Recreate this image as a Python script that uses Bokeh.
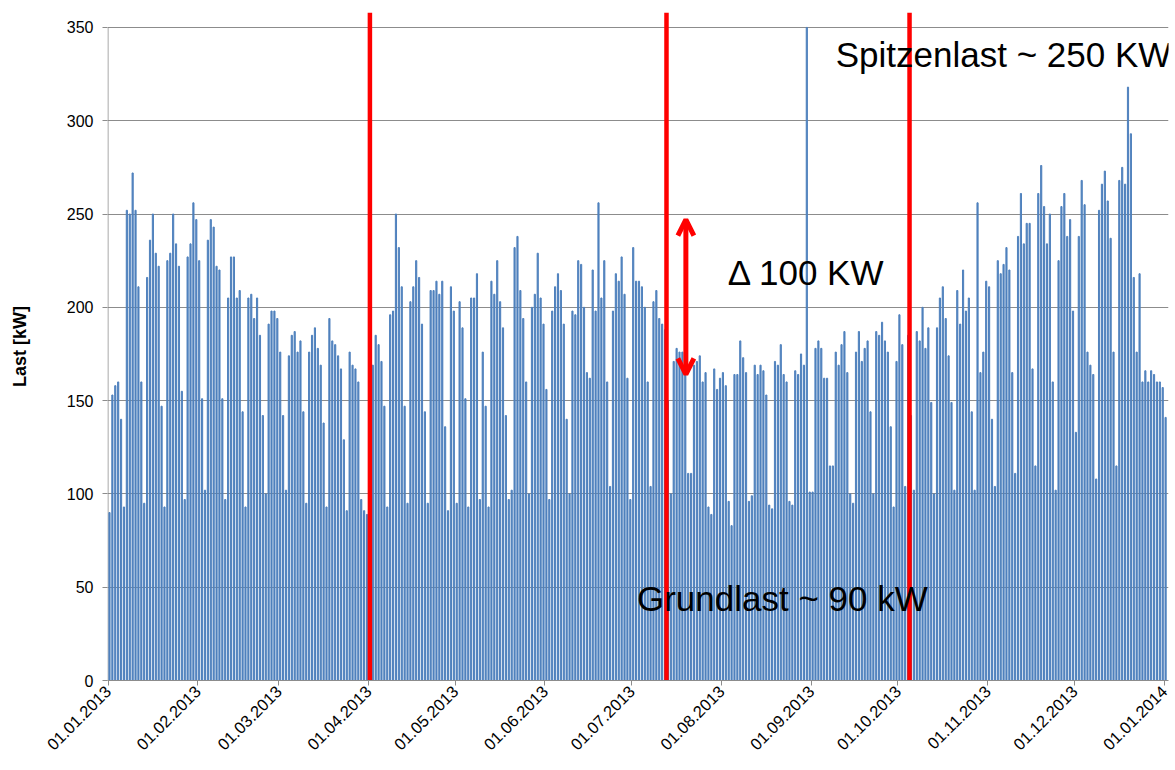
import math
from bokeh.plotting import figure
from bokeh.models import Range1d, FixedTicker, Arrow, OpenHead, Label
from bokeh.embed import file_html
from bokeh.resources import INLINE

# daily load 01.01.2013 .. 01.01.2014 (kW)
load_jan = [90, 153, 158, 160, 140, 93, 252, 250, 272, 252, 211, 160, 95, 216, 236, 250,
            229, 222, 147, 93, 225, 229, 250, 234, 222, 155, 97, 227, 234, 256, 247]
load_feb = [225, 151, 102, 236, 247, 243, 222, 220, 151, 97, 205, 227, 227, 205, 209, 144,
            93, 205, 207, 194, 205, 185, 142, 100, 191, 198, 198, 194]
load_mar = [176, 142, 102, 174, 185, 187, 176, 182, 144, 95, 176, 185, 189, 178, 169, 138,
            93, 194, 182, 180, 174, 167, 129, 91, 176, 169, 167, 160, 97, 91, 89]
load_apr = [88, 169, 185, 180, 171, 147, 93, 196, 198, 250, 232, 211, 147, 95, 203, 211,
            225, 216, 191, 144, 95, 209, 209, 214, 207, 214, 136, 91, 211, 198]
load_may = [95, 203, 189, 151, 93, 205, 205, 218, 97, 176, 147, 93, 214, 207, 225, 203,
            189, 142, 97, 102, 232, 238, 209, 194, 160, 100, 200, 207, 229, 205, 191]
load_jun = [156, 97, 198, 211, 218, 209, 191, 140, 100, 198, 196, 225, 223, 200, 165, 162,
            220, 198, 256, 205, 225, 160, 104, 198, 218, 214, 227, 207, 162, 97]
load_jul = [232, 214, 214, 211, 200, 160, 104, 203, 209, 194, 191, 188, 150, 100, 171, 178,
            176, 176, 167, 111, 111, 169, 171, 174, 160, 165, 93, 89, 167, 156, 162]
load_aug = [165, 158, 96, 83, 164, 164, 182, 173, 165, 96, 99, 169, 164, 169, 166, 153,
            94, 92, 171, 169, 180, 164, 160, 96, 94, 166, 164, 175, 169, 350, 101]
load_sep = [101, 178, 182, 178, 162, 162, 115, 115, 176, 169, 180, 187, 165, 100, 95, 176,
            187, 171, 178, 182, 144, 100, 187, 185, 192, 182, 176, 136, 93, 171]
load_oct = [196, 180, 104, 185, 142, 102, 187, 182, 200, 178, 189, 149, 100, 189, 205, 211,
            194, 174, 149, 102, 209, 191, 220, 198, 205, 144, 102, 256, 165, 176, 214]
load_nov = [211, 140, 104, 225, 218, 223, 232, 220, 165, 111, 238, 261, 234, 245, 245, 167,
            115, 261, 276, 254, 234, 250, 160, 102, 225, 254, 261, 238, 247, 198]
load_dec = [133, 238, 268, 255, 176, 169, 164, 108, 252, 266, 273, 257, 237, 176, 115, 268,
            275, 266, 318, 293, 216, 176, 218, 160, 166, 160, 166, 164, 160, 160, 157]
load_jan14 = [141]

load_kw = (load_jan + load_feb + load_mar + load_apr + load_may + load_jun + load_jul
           + load_aug + load_sep + load_oct + load_nov + load_dec + load_jan14)
days = list(range(len(load_kw)))

month_start_days = [0, 31, 59, 90, 120, 151, 181, 212, 243, 273, 304, 334, 365]
month_labels = ["01.01.2013", "01.02.2013", "01.03.2013", "01.04.2013", "01.05.2013",
                "01.06.2013", "01.07.2013", "01.08.2013", "01.09.2013", "01.10.2013",
                "01.11.2013", "01.12.2013", "01.01.2014"]
y_ticks = [0, 50, 100, 150, 200, 250, 300, 350]

marker_days = [90, 192.5, 276.5]          # red period separators
delta_day = 199.2                          # double arrow position
delta_range = [162, 249]                   # arrow from / to (kW)

FONT = "Liberation Sans"

p = figure(frame_width=1061, frame_height=668,
           x_range=Range1d(-0.69, 366.0), y_range=Range1d(0, 358),
           output_backend="svg", toolbar_location=None,
           min_border_left=107, min_border_top=12, min_border_right=6, min_border_bottom=10)
p.outline_line_color = None
p.background_fill_color = "white"
p.border_fill_color = "white"

p.xgrid.visible = False
p.ygrid.ticker = FixedTicker(ticks=y_ticks)
p.ygrid.grid_line_color = "#8C8C8C"
p.ygrid.grid_line_width = 1

# y axis
ya = p.yaxis[0]
ya.ticker = FixedTicker(ticks=y_ticks)
ya.axis_line_color = None
ya.major_tick_out = 5
ya.major_tick_in = 0
ya.major_tick_line_color = "#8C8C8C"
ya.minor_tick_line_color = None
ya.major_label_standoff = 9
ya.major_label_text_font = FONT
ya.major_label_text_font_size = "16px"
ya.major_label_text_color = "black"
ya.axis_label = "Last [kW]"
ya.axis_label_text_font = FONT
ya.axis_label_text_font_size = "18px"
ya.axis_label_text_font_style = "bold"
ya.axis_label_text_color = "black"
ya.axis_label_standoff = 34

# x axis
xa = p.xaxis[0]
tick_pos = [d - 0.5 for d in month_start_days]
xa.ticker = FixedTicker(ticks=tick_pos)
xa.major_label_overrides = {t: lab for t, lab in zip(tick_pos, month_labels)}
xa.major_label_orientation = math.pi / 4
xa.major_label_text_font = FONT
xa.major_label_text_font_size = "16.5px"
xa.major_label_text_color = "black"
xa.axis_line_color = "#8C8C8C"
xa.major_tick_line_color = "#8C8C8C"
xa.major_tick_out = 5
xa.major_tick_in = 0
xa.minor_tick_line_color = None
xa.major_label_standoff = 3

# y axis line (only up to 350)
p.segment(x0=[-0.52], y0=[0], x1=[-0.52], y1=[y_ticks[-1]], line_color="#8C8C8C", line_width=1)

# bars
p.vbar(x=days, top=load_kw, width=0.4, color="#4F81BD")

# red separators
p.segment(x0=marker_days, y0=[0] * len(marker_days), x1=marker_days, y1=[358] * len(marker_days),
          line_color="#FF0000", line_width=4.5)

# double arrow
arrow = Arrow(start=OpenHead(size=16, line_color="#FF0000", line_width=5),
              end=OpenHead(size=16, line_color="#FF0000", line_width=5),
              x_start=delta_day, y_start=delta_range[0] + 2, x_end=delta_day, y_end=delta_range[1] - 2,
              line_color="#FF0000", line_width=5)
p.add_layout(arrow)

for x, y, t in [(251.0, 335.5, "Spitzenlast ~ 250 KW"),
                (213.7, 218.6, "Δ 100 KW"),
                (182.3, 44, "Grundlast ~ 90 kW")]:
    p.add_layout(Label(x=x, y=y, text=t, text_font=FONT, text_font_size="35px",
                       text_baseline="middle", text_align="left", text_color="black"))

open("out.html", "w").write(file_html(p, INLINE))
